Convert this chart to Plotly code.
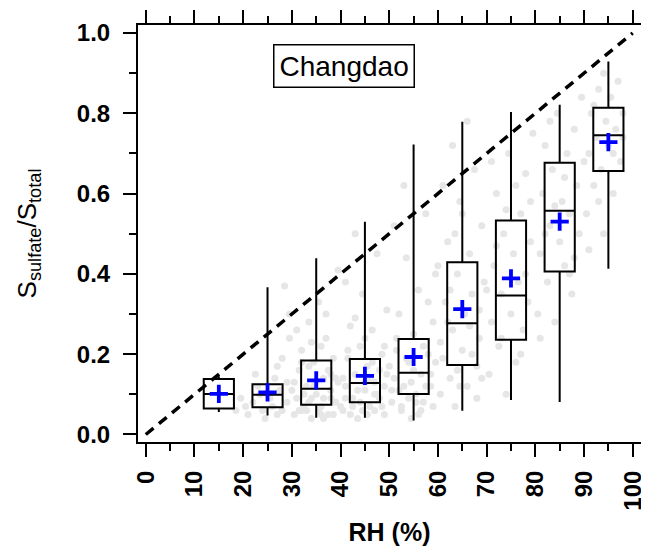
import plotly.graph_objects as go

# ---- box statistics per RH bin ----
rh_bins = [15, 25, 35, 45, 55, 65, 75, 85, 95]
q1 = [0.065, 0.068, 0.074, 0.080, 0.101, 0.173, 0.236, 0.406, 0.656]
median = [0.101, 0.099, 0.114, 0.128, 0.154, 0.277, 0.346, 0.557, 0.745]
q3 = [0.138, 0.125, 0.184, 0.188, 0.238, 0.429, 0.533, 0.677, 0.814]
lower = [0.056, 0.047, 0.042, 0.042, 0.035, 0.059, 0.086, 0.081, 0.413]
upper = [0.145, 0.367, 0.439, 0.530, 0.722, 0.779, 0.803, 0.821, 0.929]
mean = [0.101, 0.105, 0.135, 0.146, 0.193, 0.312, 0.389, 0.530, 0.728]

# ---- background individual samples ----
pts_rh = [
    18.5, 19.5, 21, 22, 23, 24, 25, 26, 26.5, 27, 27.5, 28, 28.5, 29, 29.5, 29, 24.5, 22.5,
    20.5, 23.5, 27, 28, 25.5, 29.5,
    30.5, 31, 31.5, 32, 32.5, 33, 33.5, 34, 34.5, 35, 35.5, 36, 36.5, 37, 37.5, 38, 38.5, 39, 39.5,
    36, 33, 38, 31, 35, 37, 30, 32, 34, 39, 36.5, 33.5,
    30.5, 31.5, 32.5, 33.5, 34.5, 35.5, 36.5, 37.5, 38.5, 39.5, 32, 34, 36, 38,
    40.5, 41, 41.5, 42, 42.5, 43, 43.5, 44, 44.5, 45, 45.5, 46, 46.5, 47, 47.5, 48, 48.5, 49, 49.5,
    41, 44, 46, 48, 43, 49, 45, 40, 42, 47, 44.5, 41.5,
    40.5, 42.5, 43.5, 45.5, 46.5, 47.5, 48.5, 49.5, 41, 43, 45, 47, 49,
    50.5, 51, 51.5, 52, 52.5, 53, 53.5, 54, 54.5, 55, 55.5, 56, 56.5, 57, 57.5, 58, 58.5, 59, 59.5,
    51, 53, 55, 57, 59, 52, 50, 54, 56, 58,
    50.5, 52.5, 54.5, 56.5, 58.5, 51.5, 53.5, 55.5, 57.5, 59.5,
    60.5, 61, 61.5, 62, 62.5, 63, 63.5, 64, 64.5, 65, 65.5, 66, 66.5, 67, 67.5, 68, 68.5, 69, 69.5,
    61, 63, 66, 68, 62, 67, 64, 60, 65,
    60.5, 62.5, 64.5, 66.5, 68.5, 63.5, 69,
    70.5, 71, 71.5, 72, 72.5, 73, 73.5, 74, 74.5, 75, 75.5, 76, 76.5, 77, 77.5, 78, 78.5, 79, 79.5,
    71, 73, 76, 78, 70, 74, 72, 77, 79,
    80.5, 81, 81.5, 82, 82.5, 83, 83.5, 84, 84.5, 85, 85.5, 86, 86.5, 87, 87.5, 88, 88.5, 89, 89.5,
    81, 83, 86, 88, 90, 84, 82, 87,
    90.5, 91, 91.5, 92, 92.5, 93, 93.5, 94, 94.5, 95, 95.5, 96, 96.5, 97, 97.5, 98,
    91, 93, 96, 98, 92, 94,
]
pts_frac = [
    0.06, 0.09, 0.05, 0.08, 0.12, 0.06, 0.10, 0.07, 0.14, 0.05, 0.11, 0.19, 0.37, 0.08, 0.24, 0.13, 0.04, 0.15,
    0.07, 0.10, 0.17, 0.06, 0.09, 0.30,
    0.05, 0.09, 0.16, 0.21, 0.07, 0.12, 0.28, 0.04, 0.18, 0.10, 0.33, 0.07, 0.14, 0.24, 0.05, 0.11, 0.19, 0.08, 0.41,
    0.22, 0.06, 0.15, 0.26, 0.13, 0.30, 0.11, 0.06, 0.09, 0.14, 0.04, 0.17,
    0.13, 0.06, 0.10, 0.08, 0.12, 0.06, 0.09, 0.16, 0.05, 0.13, 0.18, 0.23, 0.05, 0.09,
    0.06, 0.12, 0.19, 0.27, 0.09, 0.15, 0.04, 0.22, 0.35, 0.11, 0.17, 0.07, 0.26, 0.13, 0.45, 0.09, 0.20, 0.05, 0.31,
    0.38, 0.08, 0.14, 0.16, 0.50, 0.12, 0.24, 0.07, 0.05, 0.10, 0.06, 0.21,
    0.14, 0.07, 0.11, 0.05, 0.18, 0.10, 0.07, 0.15, 0.09, 0.29, 0.13, 0.06, 0.22,
    0.08, 0.14, 0.21, 0.30, 0.06, 0.12, 0.44, 0.18, 0.04, 0.25, 0.10, 0.36, 0.15, 0.08, 0.55, 0.20, 0.12, 0.28, 0.40,
    0.52, 0.62, 0.16, 0.22, 0.07, 0.11, 0.17, 0.09, 0.05, 0.33,
    0.11, 0.07, 0.13, 0.06, 0.15, 0.24, 0.19, 0.08, 0.12, 0.18,
    0.10, 0.19, 0.33, 0.48, 0.14, 0.26, 0.07, 0.40, 0.58, 0.21, 0.30, 0.12, 0.45, 0.35, 0.66, 0.17, 0.24, 0.52, 0.38,
    0.62, 0.72, 0.78, 0.09, 0.28, 0.20, 0.16, 0.42, 0.55,
    0.23, 0.36, 0.12, 0.27, 0.31, 0.50, 0.14,
    0.15, 0.28, 0.42, 0.60, 0.22, 0.35, 0.50, 0.10, 0.70, 0.30, 0.45, 0.18, 0.38, 0.55, 0.26, 0.65, 0.33, 0.48, 0.75,
    0.68, 0.24, 0.62, 0.40, 0.36, 0.56, 0.47, 0.20, 0.58,
    0.30, 0.45, 0.60, 0.72, 0.38, 0.52, 0.66, 0.28, 0.80, 0.48, 0.58, 0.42, 0.70, 0.55, 0.35, 0.76, 0.62, 0.50, 0.84,
    0.24, 0.78, 0.64, 0.44, 0.68, 0.57, 0.50, 0.40,
    0.55, 0.70, 0.80, 0.62, 0.74, 0.86, 0.66, 0.50, 0.78, 0.72, 0.84, 0.60, 0.76, 0.88, 0.68, 0.80,
    0.46, 0.58, 0.70, 0.74, 0.82, 0.90,
]

ref_x = [0, 100]
ref_y = [0, 1.0]

x_ticks = list(range(0, 101, 10))
y_ticks = [0.0, 0.2, 0.4, 0.6, 0.8, 1.0]
y_ticktext = ["0.0", "0.2", "0.4", "0.6", "0.8", "1.0"]

FONT = "Liberation Sans, Arial, sans-serif"
xr = [-1.6, 101.7]
yr = [-0.0187, 1.0199]

fig = go.Figure()

fig.add_trace(go.Scatter(
    x=pts_rh, y=pts_frac, mode="markers",
    marker=dict(size=7, color="#e6e6e6"),
    hoverinfo="skip", showlegend=False,
))

fig.add_trace(go.Box(
    x=rh_bins, q1=q1, median=median, q3=q3,
    lowerfence=lower, upperfence=upper,
    width=6.2, whiskerwidth=0, boxpoints=False,
    fillcolor="rgba(0,0,0,0)", line=dict(color="black", width=2),
    xaxis="x2", yaxis="y2", showlegend=False,
))

fig.add_trace(go.Scatter(
    x=ref_x, y=ref_y, mode="lines",
    line=dict(color="black", width=3.5, dash="10px,7px"),
    xaxis="x2", yaxis="y2", showlegend=False, hoverinfo="skip",
))

fig.add_trace(go.Scatter(
    x=rh_bins, y=mean, mode="markers",
    marker=dict(symbol="cross-thin", size=13, line=dict(width=3.8, color="#0000ff")),
    xaxis="x2", yaxis="y2", showlegend=False,
))

axis_common = dict(
    showline=True, linewidth=2, linecolor="black", mirror="allticks",
    ticks="outside", ticklen=13, tickwidth=2, tickcolor="black",
    showgrid=False, zeroline=False, automargin=False,
    tickfont=dict(family=FONT, size=24, color="black", weight="bold"),
)

# page body has an 8px default margin, so the figure is sized/placed to compensate
fig.update_layout(
    template="none",
    width=641, height=546,
    margin=dict(l=130, r=8, t=17, b=112, autoexpand=False),
    paper_bgcolor="white", plot_bgcolor="white",
    showlegend=False,
    xaxis=dict(
        range=xr, tickvals=x_ticks, tickangle=-90, ticklabelstandoff=4,
        minor=dict(dtick=5, tick0=0, ticks="outside", ticklen=7, tickwidth=2, tickcolor="black"),
        title=dict(text="RH (%)", font=dict(family=FONT, size=25, color="black", weight="bold"), standoff=14),
        **axis_common,
    ),
    yaxis=dict(
        range=yr, tickvals=y_ticks, ticktext=y_ticktext, ticklabelstandoff=8,
        minor=dict(dtick=0.1, tick0=0, ticks="outside", ticklen=7, tickwidth=2, tickcolor="black"),
        title=dict(text="S<sub>sulfate</sub>/S<sub>total</sub>", font=dict(family=FONT, size=26, color="black"), standoff=33),
        **axis_common,
    ),
    xaxis2=dict(range=xr, overlaying="x", visible=False, automargin=False),
    yaxis2=dict(range=yr, overlaying="y", visible=False, automargin=False),
    annotations=[dict(
        x=40.8, y=0.918, xref="x", yref="y", text="Changdao", showarrow=False,
        font=dict(family=FONT, size=28, color="black"),
        bordercolor="black", borderwidth=1.5, borderpad=5, bgcolor="white",
    )],
)

fig.write_html("out.html")
